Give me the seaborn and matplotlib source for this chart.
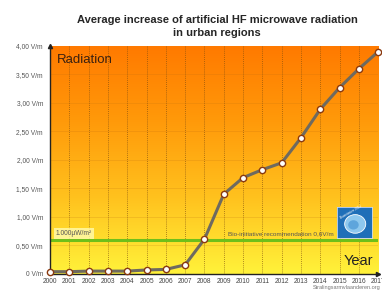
import numpy as np
import pandas as pd
import seaborn as sns
import matplotlib.pyplot as plt
from matplotlib.colors import LinearSegmentedColormap
from matplotlib.patches import Circle

years = list(range(2000, 2018))
radiation = [0.04, 0.04, 0.05, 0.05, 0.05, 0.07, 0.08, 0.16, 0.61, 1.40,
             1.69, 1.83, 1.95, 2.39, 2.89, 3.27, 3.60, 3.90]
ytick_vals = [0, 0.5, 1.0, 1.5, 2.0, 2.5, 3.0, 3.5, 4.0]
ytick_labels = ['0 V/m', '0,50 V/m', '1,00 V/m', '1,50 V/m', '2,00 V/m',
                '2,50 V/m', '3,00 V/m', '3,50 V/m', '4,00 V/m']
limit_value = 0.6

df = pd.DataFrame({'Year': years, 'Radiation': radiation})

sns.set_style('white')
plt.rcParams['font.family'] = ['Liberation Sans', 'DejaVu Sans']

fig = plt.figure(figsize=(3.82, 2.93), dpi=100)
ax = fig.add_axes([0.131, 0.065, 0.859, 0.778])

# orange -> yellow background gradient
cmap = LinearSegmentedColormap.from_list('bg', ['#fff23a', '#ffc21e', '#ff9a0a', '#ff7a00'])
grad = np.linspace(0, 1, 256).reshape(-1, 1)
ax.imshow(grad, cmap=cmap, origin='lower', aspect='auto',
          extent=[2000, 2017, 0, 4.0], zorder=0)

for y in years[1:]:
    ax.axvline(y, color='#7a4a10', lw=0.6, ls=(0, (1, 1.5)), alpha=0.8, zorder=1)
for v in ytick_vals[1:-1]:
    ax.axhline(v, color='#c07010', lw=0.4, alpha=0.35, zorder=1)

# bio-initiative line
ax.axhline(limit_value, color='#6fbf1a', lw=2.2, zorder=2)
ax.text(2000.3, limit_value + 0.05, '1.000µW/m²', fontsize=4.8, color='#555555',
        va='bottom', zorder=3,
        bbox=dict(boxstyle='square,pad=0.25', fc='#fffbb0', ec='none', alpha=0.8))
ax.text(2009.2, limit_value + 0.06, 'Bio-initiative recommendation 0,6V/m',
        fontsize=4.6, color='#555555', va='bottom', zorder=3)

sns.lineplot(data=df, x='Year', y='Radiation', ax=ax, color='#6e6a60', lw=2.2,
             marker='o', markersize=4.5, markerfacecolor='white',
             markeredgecolor='#8a3a10', markeredgewidth=1.0, zorder=4, clip_on=False)

ax.set_xlim(2000, 2017)
ax.set_ylim(0, 4.0)
ax.set_xticks(years)
ax.set_xticklabels([str(y) for y in years], fontsize=4.8, color='#444444')
ax.set_yticks(ytick_vals)
ax.set_yticklabels(ytick_labels, fontsize=4.8, color='#555555')
ax.tick_params(axis='both', length=2, width=0.5, pad=3, color='#333333')
ax.tick_params(axis='x', length=0)
ax.set_xlabel('')
ax.set_ylabel('')
for s in ['top', 'right']:
    ax.spines[s].set_visible(False)
for s in ['left', 'bottom']:
    ax.spines[s].set_color('#222222')
    ax.spines[s].set_linewidth(1.0)

# axis arrows
ax.plot(1, 0, '>', transform=ax.transAxes, color='#222222', ms=3, clip_on=False)
ax.plot(0, 1, '^', transform=ax.transAxes, color='#222222', ms=3, clip_on=False)

ax.text(2000.35, 3.76, 'Radiation', fontsize=9.5, color='#3a2010', va='center')
ax.text(2016.75, 0.22, 'Year', fontsize=10.5, color='#222222', ha='right', va='center')

# Bioinitiative logo
logo = fig.add_axes([0.882, 0.188, 0.092, 0.106])
logo.set_facecolor('#1f6fb8')
logo.set_xlim(0, 1)
logo.set_ylim(0, 1)
logo.set_xticks([])
logo.set_yticks([])
for s in logo.spines.values():
    s.set_color('#c8d8f0')
    s.set_linewidth(0.6)
logo.add_patch(Circle((0.52, 0.45), 0.3, fc='#8ec8ee', ec='white', lw=0.6))
logo.add_patch(Circle((0.47, 0.42), 0.15, fc='#3f8fd0', ec='none', alpha=0.6))
logo.text(0.40, 0.84, 'Bioinitiative 2012', fontsize=2.3, color='white',
          rotation=30, ha='center', va='center')

fig.suptitle('Average increase of artificial HF microwave radiation\nin urban regions',
             x=0.568, y=0.95, fontsize=8.0, fontweight='bold', linespacing=1.4)
fig.text(0.995, 0.01, 'Stralingsarmvlaanderen.org', fontsize=4, color='#777777',
         ha='right', va='bottom')

fig.savefig('out.png', dpi=100)
